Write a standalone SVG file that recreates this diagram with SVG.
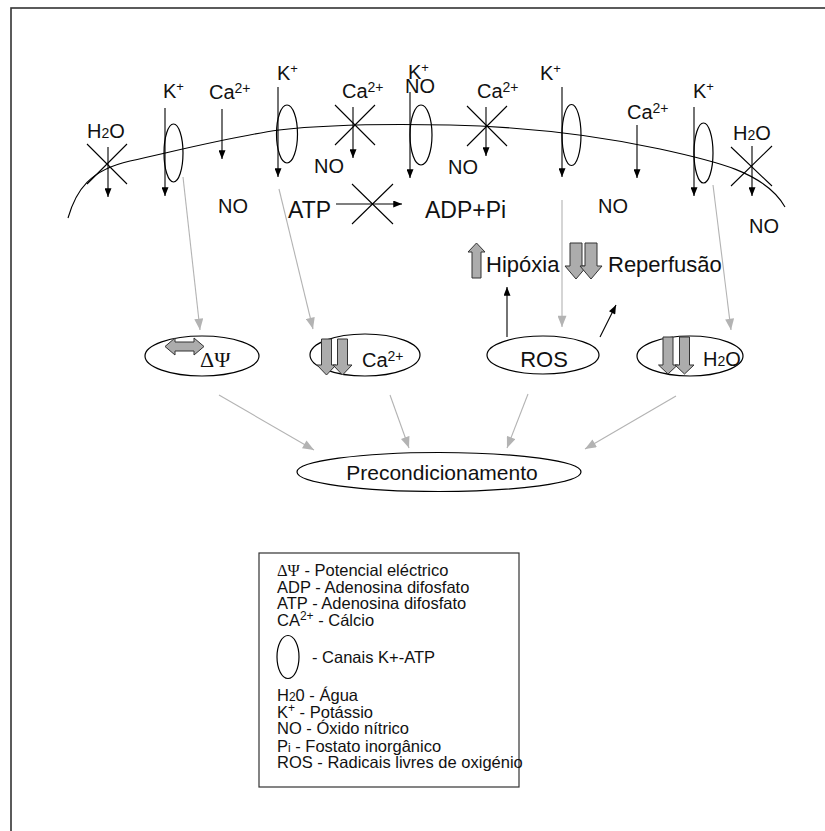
<svg xmlns="http://www.w3.org/2000/svg" width="825" height="831" viewBox="0 0 825 831">
<defs>
<style>
.t{font-family:"Liberation Sans",Arial,sans-serif;fill:#111}
.s{font-family:"Liberation Serif","Times New Roman",serif;fill:#111}
.ln{stroke:#000;stroke-width:1.1;fill:none}
.ar{stroke:#000;stroke-width:1.1;fill:none;marker-end:url(#ab)}
.gr{stroke:#b3b3b3;stroke-width:1.1;fill:none;marker-end:url(#ag)}
.el{stroke:#000;stroke-width:1.2;fill:none}
.blk{fill:#acacac;stroke:#333;stroke-width:1}
</style>
<marker id="ab" viewBox="0 0 10 8" refX="10" refY="4" markerWidth="10" markerHeight="7" markerUnits="userSpaceOnUse" orient="auto"><path d="M0,0L10,4L0,8z" fill="#000"/></marker>
<marker id="ag" viewBox="0 0 10 8" refX="10" refY="4" markerWidth="12" markerHeight="9" markerUnits="userSpaceOnUse" orient="auto"><path d="M0,0L10,4L0,8z" fill="#b3b3b3"/></marker>
</defs>
<rect x="11" y="8" width="840" height="850" fill="none" stroke="#333" stroke-width="1.6"/>

<g id="membrane"><path class="ln" d="M68,218 C76,190 90,170 130,161 C180,150 230,137 279,130 C330,124 400,124 450,125 C530,127 600,136 660,149 C715,161 765,172 785,207"/></g>

<g id="channels">
<ellipse class="el" cx="173.5" cy="153" rx="9.5" ry="29"/>
<ellipse class="el" cx="287" cy="134" rx="10.5" ry="29"/>
<ellipse class="el" cx="421" cy="135" rx="11" ry="30"/>
<ellipse class="el" cx="571.5" cy="135" rx="9.5" ry="30.5"/>
<ellipse class="el" cx="703.5" cy="153" rx="9.5" ry="30"/>
</g>

<g id="crosses">
<path class="ln" d="M87,144L127,184M127,144L87,184"/>
<path class="ln" d="M335,105L375,145M375,105L335,145"/>
<path class="ln" d="M467,106L507,146M507,106L467,146"/>
<path class="ln" d="M352,184L393,224M393,184L352,224"/>
<path class="ln" d="M731,147L772,186M772,146L731,186"/>
</g>

<g id="connectors">
<line class="ar" x1="108" y1="147" x2="108" y2="197"/>
<line class="ar" x1="165" y1="108" x2="165" y2="196"/>
<line class="ar" x1="222" y1="109" x2="222" y2="159"/>
<line class="ar" x1="278" y1="87" x2="278" y2="177"/>
<line class="ar" x1="353" y1="107" x2="353" y2="158"/>
<line class="ar" x1="410" y1="92" x2="410" y2="178"/>
<line class="ar" x1="486" y1="107" x2="486" y2="156"/>
<line class="ar" x1="336" y1="204" x2="402" y2="204"/>
<line class="ar" x1="562" y1="87" x2="562" y2="177"/>
<line class="ar" x1="637" y1="125" x2="637" y2="178"/>
<line class="ar" x1="694" y1="107" x2="694" y2="196"/>
<line class="ar" x1="752" y1="146" x2="752" y2="196"/>
<line class="ar" x1="507" y1="337" x2="507" y2="287"/>
<line class="ar" x1="600" y1="337" x2="616" y2="305"/>
<line class="gr" x1="183" y1="177" x2="200" y2="330"/>
<line class="gr" x1="279" y1="189" x2="313" y2="329"/>
<line class="gr" x1="562" y1="200" x2="562" y2="327"/>
<line class="gr" x1="713" y1="185" x2="731" y2="330"/>
<line class="gr" x1="219" y1="395" x2="314" y2="450"/>
<line class="gr" x1="390" y1="395" x2="409" y2="448"/>
<line class="gr" x1="528" y1="394" x2="507" y2="448"/>
<line class="gr" x1="676" y1="396" x2="585" y2="449"/>
</g>

<g id="labels-top" class="t" font-size="20">
<text x="87" y="138">H<tspan font-size="14">2</tspan>O</text>
<text x="163" y="98">K<tspan font-size="13" dy="-7">+</tspan></text>
<text x="209" y="99">Ca<tspan font-size="14" dy="-6">2+</tspan></text>
<text x="218" y="213">NO</text>
<text x="277" y="80">K<tspan font-size="13" dy="-7">+</tspan></text>
<text x="342" y="98">Ca<tspan font-size="14" dy="-6">2+</tspan></text>
<text x="314" y="173">NO</text>
<text x="408" y="79">K<tspan font-size="13" dy="-7">+</tspan></text>
<text x="405" y="93">NO</text>
<text x="477" y="98">Ca<tspan font-size="14" dy="-6">2+</tspan></text>
<text x="448" y="174">NO</text>
<text x="540" y="80">K<tspan font-size="13" dy="-7">+</tspan></text>
<text x="627" y="119">Ca<tspan font-size="14" dy="-6">2+</tspan></text>
<text x="598" y="213">NO</text>
<text x="693" y="98">K<tspan font-size="13" dy="-7">+</tspan></text>
<text x="733" y="140">H<tspan font-size="14">2</tspan>O</text>
<text x="749" y="233">NO</text>
<text x="288" y="218" font-size="23">ATP</text>
<text x="425" y="218" font-size="23">ADP+Pi</text>
</g>

<g id="hipoxia">
<path class="blk" d="M476.5,243L485,252L481,252L481,278L472,278L472,252L468,252Z"/>
<text class="t" x="486" y="272" font-size="22">Hipóxia</text>
</g>
<g id="reperfusao">
<path class="blk" d="M570,243L582,243L582,266L587,266L576,279L565,266L570,266Z"/>
<path class="blk" d="M585,243L597,243L597,266L602,266L591,279L580,266L585,266Z"/>
<text class="t" x="608" y="272" font-size="22">Reperfusão</text>
</g>

<g id="node-dpsi">
<ellipse class="el" cx="202" cy="356" rx="57" ry="20"/>
<path class="blk" d="M165,346.5L175,338L175,342L194,342L194,338L204,346.5L194,355L194,351L175,351L175,355Z"/>
<text class="s" x="200" y="367" font-size="22">ΔΨ</text>
</g>
<g id="node-ca">
<ellipse class="el" cx="365" cy="355" rx="55" ry="21"/>
<path class="blk" d="M321.5,339L331.5,339L331.5,365L336,365L326.5,375L317,365L321.5,365Z"/>
<path class="blk" d="M337.5,339L347.5,339L347.5,365L352,365L342.5,375L333,365L337.5,365Z"/>
<text class="t" x="362" y="367" font-size="20">Ca<tspan font-size="14" dy="-6">2+</tspan></text>
</g>
<g id="node-ros">
<ellipse class="el" cx="543" cy="355" rx="56" ry="19"/>
<text class="t" x="544" y="367" font-size="22" text-anchor="middle">ROS</text>
</g>
<g id="node-h2o">
<ellipse class="el" cx="690" cy="356" rx="53" ry="20"/>
<path class="blk" d="M663,337L673,337L673,365L677.5,365L668,374L658.5,365L663,365Z"/>
<path class="blk" d="M679.5,337L689.5,337L689.5,365L694,365L684.5,374L675,365L679.5,365Z"/>
<text class="t" x="703" y="366" font-size="20">H<tspan font-size="14">2</tspan>O</text>
</g>
<g id="node-precond">
<ellipse class="el" cx="439" cy="472" rx="142" ry="19.5"/>
<text class="t" x="442" y="480" font-size="21" text-anchor="middle">Precondicionamento</text>
</g>

<g id="legend" class="t" font-size="16.5">
<rect x="259" y="553" width="260" height="234" fill="none" stroke="#333" stroke-width="1.2"/>
<text x="277" y="576"><tspan class="s">ΔΨ</tspan> - Potencial eléctrico</text>
<text x="277" y="593">ADP - Adenosina difosfato</text>
<text x="277" y="609">ATP - Adenosina difosfato</text>
<text x="277" y="626">CA<tspan font-size="12" dy="-6">2+</tspan><tspan dy="6"> - Cálcio</tspan></text>
<ellipse class="el" cx="288" cy="657" rx="11" ry="21.5"/>
<text x="312" y="663">- Canais K+-ATP</text>
<text x="277" y="701">H<tspan font-size="12">2</tspan>0 - Água</text>
<text x="277" y="718">K<tspan font-size="12" dy="-6">+</tspan><tspan dy="6"> - Potássio</tspan></text>
<text x="277" y="734">NO - Óxido nítrico</text>
<text x="277" y="752">P<tspan font-size="12">i</tspan> - Fostato inorgânico</text>
<text x="277" y="768">ROS - Radicais livres de oxigénio</text>
</g>
</svg>
